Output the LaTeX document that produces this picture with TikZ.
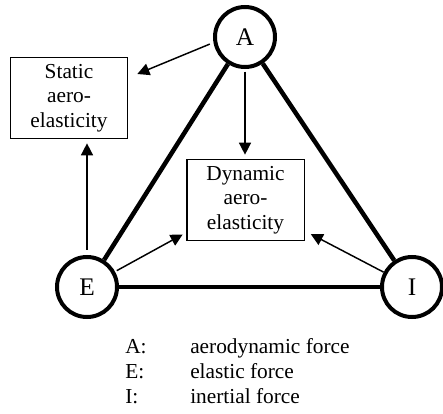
\documentclass[tikz,border=0pt]{standalone}
\usepackage{fontspec}
\setmainfont{Liberation Serif}
\usetikzlibrary{arrows.meta}
\begin{document}
\begin{tikzpicture}[x=0.75pt,y=-0.75pt,
  force/.style={circle,draw,line width=3pt,minimum size=45pt,inner sep=0pt,font=\fontsize{19}{22}\selectfont},
  regime/.style={rectangle,draw,line width=1pt,minimum width=88pt,minimum height=61pt,inner sep=0pt,align=center,font=\fontsize{16}{18.4}\selectfont},
  link/.style={line width=3.4pt},
  arr/.style={line width=1.1pt,-{Triangle[length=9pt,width=9pt]}},
  key/.style={anchor=base west,inner sep=0pt,font=\fontsize{16}{18.4}\selectfont}]
\useasboundingbox (0,0) rectangle (443,414);

\node[force] (A) at (245,37) {A};
\node[force] (E) at (87,287) {E};
\node[force] (I) at (412,287) {I};

\node[regime] (static) at (69,98) {Static\\aero-\\elasticity};
\node[regime] (dyn) at (245.5,200) {Dynamic\\aero-\\elasticity};

%triangle
\draw[link] (A) -- (E);
\draw[link] (A) -- (I);
\draw[link] (E) -- (I);

\draw[arr,shorten <=3pt] (A.190) -- ([shift={(9,-24)}]static.east);
\draw[arr,shorten <=2pt,shorten >=3pt] (A.south) -- (A.south |- dyn.north);
\draw[arr,shorten <=4pt,shorten >=3pt] (E.north) -- (E.north |- static.south);
\draw[arr,shorten <=1.5pt,shorten >=3pt] (E) -- (dyn);
\draw[arr,shorten >=5pt] (I) -- (dyn);

%legend
\node[key] (kA) at (125,353) {A:};
\node[key] (tA) at (190,353) {aerodynamic force};
\node[key] (kE) at (125,378) {E:};
\node[key] (tE) at (190,378) {elastic force};
\node[key] (kI) at (125,403) {I:};
\node[key] (tI) at (190,403) {inertial force};
\end{tikzpicture}
\end{document}
